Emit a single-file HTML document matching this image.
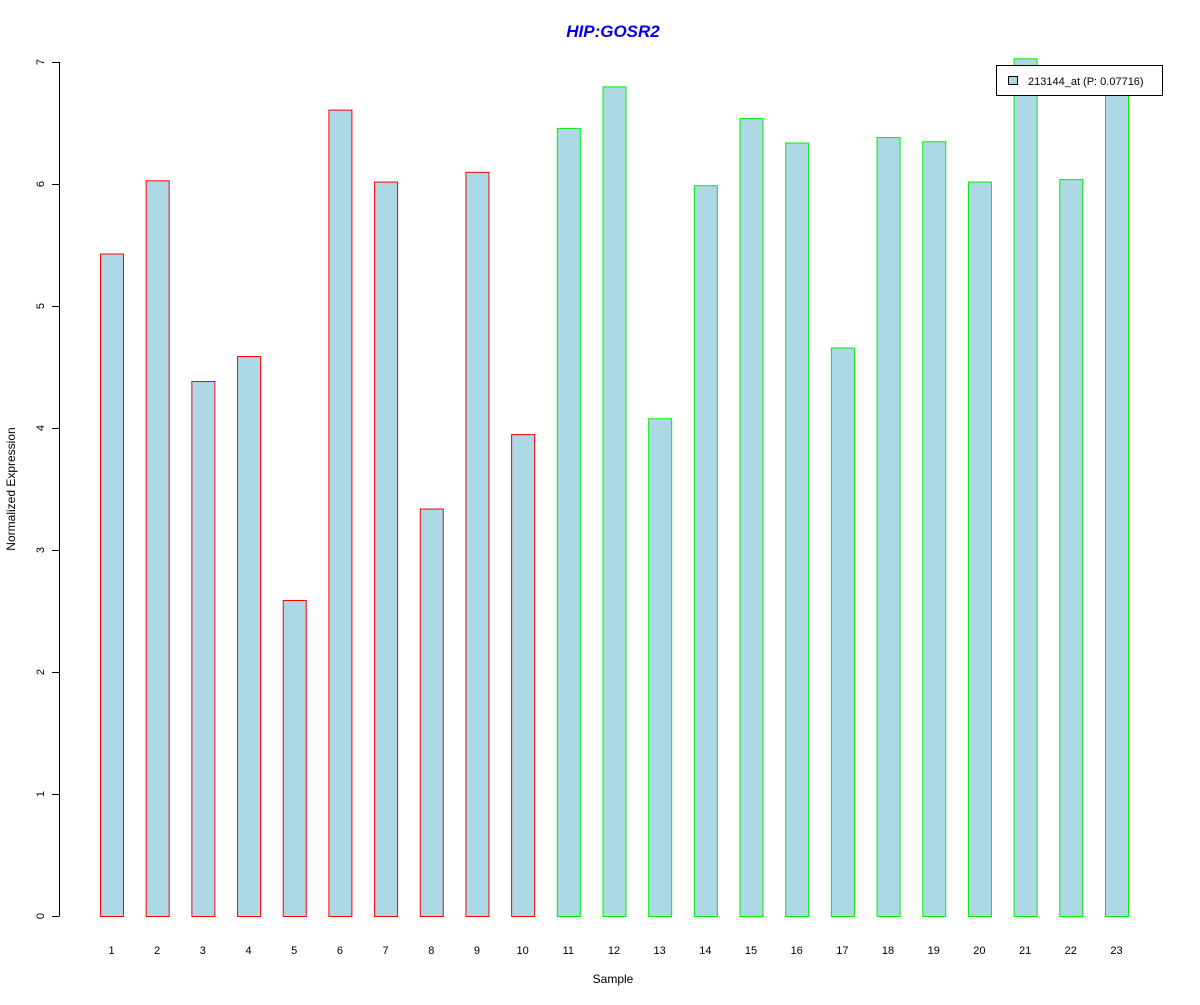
<!DOCTYPE html>
<html><head><meta charset="utf-8"><style>
body{margin:0;background:#fff;}
svg text{font-family:"Liberation Sans",Arial,sans-serif;}
</style></head><body>
<svg id="chart" width="1200" height="1000" xmlns="http://www.w3.org/2000/svg">
<rect width="1200" height="1000" fill="#fff"/>
<text x="613" y="37" text-anchor="middle" font-size="17" font-weight="bold" font-style="italic" fill="#0000ee">HIP:GOSR2</text>
<text x="613" y="983" text-anchor="middle" font-size="12">Sample</text>
<text transform="translate(15,489) rotate(-90)" text-anchor="middle" font-size="12">Normalized Expression</text>
<g id="bars"></g>
<g id="axis"></g>
<g>
<rect x="996.5" y="65.5" width="166" height="30" fill="#fff" stroke="#000"/>
<rect x="1008.5" y="76.5" width="9" height="8" fill="#add8e6" stroke="#000"/>
<text x="1028" y="85" font-size="11">213144_at (P: 0.07716)</text>
</g>
</svg>
<script>
const categories=["1","2","3","4","5","6","7","8","9","10","11","12","13","14","15","16","17","18","19","20","21","22","23"];
const values=[5.43,6.03,4.385,4.59,2.59,6.61,6.02,3.34,6.10,3.95,6.46,6.80,4.08,5.99,6.54,6.34,4.66,6.385,6.35,6.02,7.03,6.04,6.75];
const groups=["a","a","a","a","a","a","a","a","a","a","b","b","b","b","b","b","b","b","b","b","b","b","b"];
const yTicks=[0,1,2,3,4,5,6,7];
const NS="http://www.w3.org/2000/svg";
const y=v=>916-v*122;
const x=i=>111.5+i*45.68;
const bars=document.getElementById('bars');
values.forEach((v,i)=>{
 const r=document.createElementNS(NS,'rect');
 
 
 r.setAttribute('x',x(i)-11.5+0.5);r.setAttribute('y',y(v)+0.5);
 r.setAttribute('width',23);r.setAttribute('height',Math.max(0,916-y(v)));
 r.setAttribute('fill','#add8e6');
 r.setAttribute('stroke',groups[i]==="a"?'#ff0000':'#00ee00');
 bars.appendChild(r);
 const t=document.createElementNS(NS,'text');
 
 
 t.setAttribute('x',x(i));t.setAttribute('y',954);
 t.setAttribute('text-anchor','middle');t.setAttribute('font-size','11');
 t.textContent=categories[i];bars.appendChild(t);
});
const ax=document.getElementById('axis');
const l=document.createElementNS(NS,'line');


l.setAttribute('x1',59.5);l.setAttribute('x2',59.5);l.setAttribute('y1',y(7));l.setAttribute('y2',y(0));l.setAttribute('stroke','#000');
ax.appendChild(l);
yTicks.forEach(v=>{
 const k=document.createElementNS(NS,'line');
 
 
 k.setAttribute('x1',52);k.setAttribute('x2',59.5);k.setAttribute('y1',y(v)+0.5);k.setAttribute('y2',y(v)+0.5);k.setAttribute('stroke','#000');
 ax.appendChild(k);
 const t=document.createElementNS(NS,'text');
 
 
 t.setAttribute('transform','translate(44,'+y(v)+') rotate(-90)');
 t.setAttribute('text-anchor','middle');t.setAttribute('font-size','11');
 t.textContent=v;ax.appendChild(t);
});
</script>
</body></html>
